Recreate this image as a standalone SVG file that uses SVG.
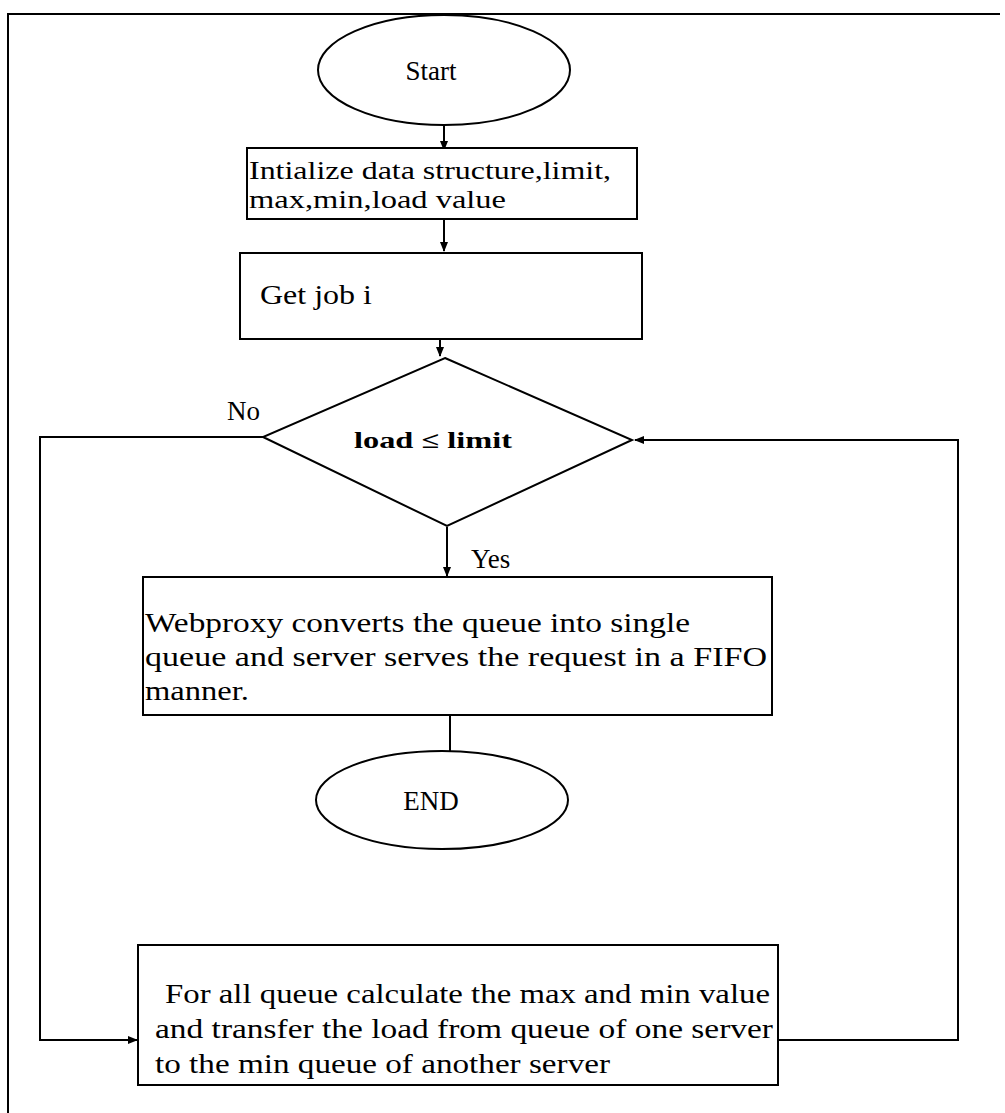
<svg xmlns="http://www.w3.org/2000/svg" width="1005" height="1113" viewBox="0 0 1005 1113">
<style>
.s{fill:#fff;stroke:#000;stroke-width:2}
.c{fill:none;stroke:#000;stroke-width:2}
text{font-family:"Liberation Serif","Times New Roman",serif;fill:#000}
.t{font-size:27px}
.b{font-size:28px}
</style>
<defs>
<marker id="a" markerWidth="10" markerHeight="10" refX="9" refY="5" orient="auto" markerUnits="userSpaceOnUse">
<path d="M0,1 L10,5 L0,9 Z" fill="#000"/>
</marker>
</defs>
<rect width="1005" height="1113" fill="#fff"/>
<path class="c" d="M8,1113 V14 H1000"/>
<g id="connectors">
<path class="c" d="M444,126 V150" marker-end="url(#a)"/>
<path class="c" d="M444,220 V251" marker-end="url(#a)"/>
<path class="c" d="M440,340 V356" marker-end="url(#a)"/>
<path class="c" d="M447,527 V576" marker-end="url(#a)"/>
<path class="c" d="M450,716 V752"/>
<path class="c" d="M263,437 H40 V1040 H137" marker-end="url(#a)"/>
<path class="c" d="M778,1040 H958 V440 H635" marker-end="url(#a)"/>
<text class="t" x="227" y="420">No</text>
<text class="t" x="471" y="568">Yes</text>
</g>
<g id="start">
<ellipse class="s" cx="444" cy="70" rx="126" ry="55"/>
<text class="t" x="431" y="80" text-anchor="middle">Start</text>
</g>
<g id="init">
<rect class="s" x="247" y="148" width="390" height="71"/>
<text x="249" y="179" font-size="26" textLength="362" lengthAdjust="spacingAndGlyphs">Intialize data structure,limit,</text>
<text x="249" y="208" font-size="26" textLength="257" lengthAdjust="spacingAndGlyphs">max,min,load value</text>
</g>
<g id="getjob">
<rect class="s" x="240" y="253" width="402" height="86"/>
<text class="t" x="260" y="304" textLength="112" lengthAdjust="spacingAndGlyphs">Get job i</text>
</g>
<g id="decision">
<polygon class="s" points="445,358 632,440 447,526 263,437"/>
<text x="354" y="448" font-size="23" font-weight="bold" textLength="158" lengthAdjust="spacingAndGlyphs">load  ≤ limit</text>
</g>
<g id="webproxy">
<rect class="s" x="143" y="577" width="629" height="138"/>
<text class="b" x="145" y="632" textLength="545" lengthAdjust="spacingAndGlyphs">Webproxy converts the queue into single</text>
<text class="b" x="145" y="666" textLength="622" lengthAdjust="spacingAndGlyphs">queue and server serves the request in a FIFO</text>
<text class="b" x="145" y="700" textLength="104" lengthAdjust="spacingAndGlyphs">manner.</text>
</g>
<g id="end">
<ellipse class="s" cx="442" cy="800" rx="126" ry="49"/>
<text class="t" x="431" y="810" text-anchor="middle">END</text>
</g>
<g id="balance">
<rect class="s" x="138" y="945" width="640" height="140"/>
<text class="b" x="165" y="1003" textLength="605" lengthAdjust="spacingAndGlyphs">For all queue calculate the max and min value</text>
<text class="b" x="155" y="1038" textLength="618" lengthAdjust="spacingAndGlyphs">and transfer the load from queue of one server</text>
<text class="b" x="155" y="1073" textLength="455" lengthAdjust="spacingAndGlyphs">to the min queue of another server</text>
</g>
</svg>
